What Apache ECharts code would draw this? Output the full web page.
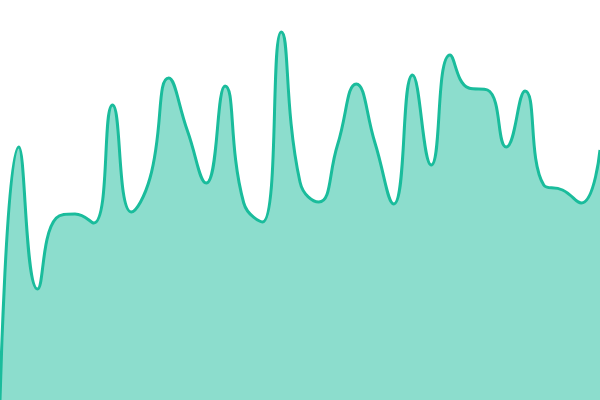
<!DOCTYPE html>
<html><head><meta charset="utf-8">
<script src="https://cdn.jsdelivr.net/npm/echarts@6/dist/echarts.min.js"></script>
<style>html,body{margin:0;padding:0;background:#fff}#c{width:600px;height:400px}</style>
</head><body><div id="c"></div>
<script>
const categories = Array.from({length: 33}, (_, i) => 'P' + (i + 1));
const values = [0, 253, 111, 182, 186, 177, 295, 188, 222, 322, 269, 217, 314, 197, 178, 368, 218, 198, 255, 316, 257, 196, 325, 235, 345, 312, 310, 253, 309, 215, 210, 197, 250];
const chart = echarts.init(document.getElementById('c'));
chart.setOption({
  animation: false,
  grid: {left: 0, right: 0, top: 0, bottom: 0},
  xAxis: {type: 'category', data: categories, boundaryGap: false, show: false},
  yAxis: {type: 'value', min: 0, max: 400, show: false},
  series: [{
    type: 'line', data: values, smooth: true, showSymbol: false,
    lineStyle: {color: '#1abc9c', width: 3},
    itemStyle: {color: '#1abc9c'},
    areaStyle: {color: 'rgba(26,188,156,0.5)', opacity: 1}
  }]
});
</script></body></html>
